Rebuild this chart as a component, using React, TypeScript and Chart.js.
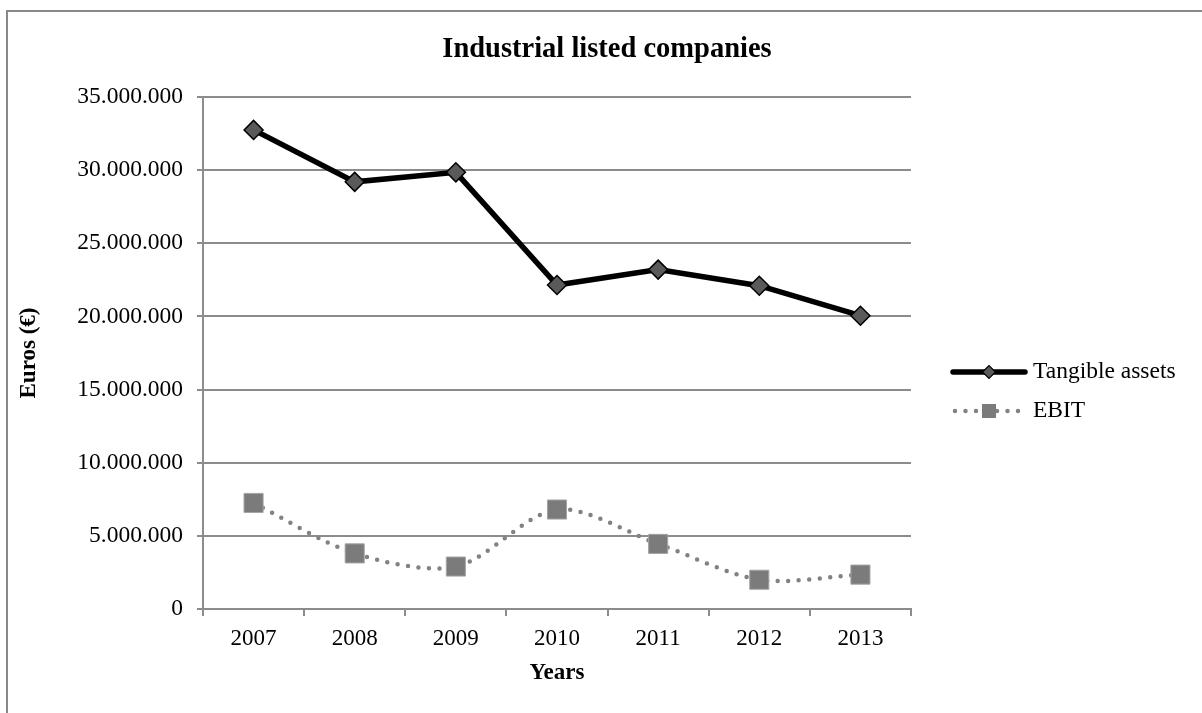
import React, { useEffect, useRef } from "react";
import { Chart, registerables } from "chart.js";

Chart.register(...registerables);

const years = ["2007", "2008", "2009", "2010", "2011", "2012", "2013"];
const tangibleAssets = [32750000, 29200000, 29850000, 22150000, 23200000, 22100000, 20050000];
const ebit = [7250000, 3800000, 2900000, 6800000, 4450000, 2000000, 2350000];

const chartTitle = "Industrial listed companies";
const yTitle = "Euros (€)";
const xTitle = "Years";
const seriesNames = ["Tangible assets", "EBIT"];

const SERIF = "'Liberation Serif', 'Times New Roman', Times, serif";

const fmt = (v: number) => String(Math.round(v)).replace(/\B(?=(\d{3})+(?!\d))/g, ".");

const decorPlugin = {
  id: "decor",
  beforeDraw(chart: any) {
    const ctx = chart.ctx;
    ctx.save();
    ctx.fillStyle = "#ffffff";
    ctx.fillRect(0, 0, chart.width, chart.height);
    ctx.strokeStyle = "#888888";
    ctx.lineWidth = 2;
    ctx.strokeRect(7, 11, 1400, 900);
    ctx.restore();
  },
  afterDraw(chart: any) {
    const ctx = chart.ctx;
    const area = chart.chartArea;
    ctx.save();
    ctx.fillStyle = "#000000";
    ctx.textBaseline = "middle";
    // title
    ctx.textAlign = "center";
    ctx.font = `bold 28.5px ${SERIF}`;
    ctx.fillText(chartTitle, 607, 50);
    // x title
    ctx.font = `bold 23px ${SERIF}`;
    ctx.fillText(xTitle, (area.left + area.right) / 2, 673);
    // y title
    ctx.save();
    ctx.translate(29, (area.top + area.bottom) / 2);
    ctx.rotate(-Math.PI / 2);
    ctx.fillText(yTitle, 0, 0);
    ctx.restore();

    // legend
    const ds0 = chart.data.datasets[0];
    const ds1 = chart.data.datasets[1];
    const x0 = 953, x1 = 1025, xc = 989;
    const y0 = 372, y1 = 411;
    // tangible
    ctx.beginPath();
    ctx.strokeStyle = ds0.borderColor;
    ctx.lineWidth = 5.5;
    ctx.lineCap = "round";
    ctx.moveTo(x0, y0);
    ctx.lineTo(x1, y0);
    ctx.stroke();
    ctx.beginPath();
    const r = 6.5;
    ctx.moveTo(xc - r, y0);
    ctx.lineTo(xc, y0 - r);
    ctx.lineTo(xc + r, y0);
    ctx.lineTo(xc, y0 + r);
    ctx.closePath();
    ctx.fillStyle = ds0.pointBackgroundColor;
    ctx.fill();
    ctx.lineWidth = 1.2;
    ctx.strokeStyle = "#000000";
    ctx.stroke();
    // ebit
    ctx.beginPath();
    ctx.strokeStyle = ds1.borderColor;
    ctx.lineWidth = 4.5;
    ctx.lineCap = "round";
    ctx.setLineDash([0, 10.5]);
    ctx.moveTo(x0 + 2, y1);
    ctx.lineTo(x1, y1);
    ctx.stroke();
    ctx.setLineDash([]);
    ctx.fillStyle = ds1.pointBackgroundColor;
    ctx.fillRect(xc - 7, y1 - 7, 14, 14);
    // texts
    ctx.fillStyle = "#000000";
    ctx.textAlign = "left";
    ctx.font = `23.5px ${SERIF}`;
    ctx.fillText(seriesNames[0], 1033, y0);
    ctx.fillText(seriesNames[1], 1033, y1);
    ctx.restore();
  },
};

export default function App() {
  const ref = useRef<HTMLCanvasElement | null>(null);

  useEffect(() => {
    document.body.style.margin = "0";
    const canvas = ref.current;
    if (!canvas) return;
    const chart = new Chart(canvas, {
      type: "line",
      data: {
        labels: years,
        datasets: [
          {
            label: seriesNames[0],
            data: tangibleAssets,
            borderColor: "#000000",
            borderWidth: 5.5,
            tension: 0,
            pointStyle: "rectRot",
            pointRadius: 9.5,
            pointBackgroundColor: "#5a5a5a",
            pointBorderColor: "#000000",
            pointBorderWidth: 1.5,
            fill: false,
          },
          {
            label: seriesNames[1],
            data: ebit,
            borderColor: "#828282",
            borderWidth: 4.5,
            borderDash: [0, 10.5],
            borderCapStyle: "round",
            tension: 0.3,
            pointStyle: "rect",
            pointRadius: 13.5,
            pointBackgroundColor: "#7b7b7b",
            pointBorderColor: "#a5a5a5",
            pointBorderWidth: 1,
            fill: false,
          },
        ],
      },
      options: {
        responsive: false,
        animation: false,
        devicePixelRatio: 1,
        layout: { padding: { left: 0, top: 97, right: 291, bottom: 0 } },
        plugins: {
          legend: { display: false },
          title: { display: false },
          tooltip: { enabled: false },
        },
        scales: {
          x: {
            type: "category",
            offset: true,
            grid: {
              offset: true,
              drawOnChartArea: false,
              drawTicks: true,
              tickLength: 7,
              color: "#8c8c8c",
              lineWidth: 2,
            },
            border: { color: "#8c8c8c", width: 2 },
            ticks: {
              color: "#000000",
              font: { family: SERIF, size: 23 },
              padding: 9,
              maxRotation: 0,
              autoSkip: false,
            },
            afterFit: (scale: any) => {
              scale.height = 104;
            },
          },
          y: {
            min: 0,
            max: 35000000,
            grid: {
              color: "#8c8c8c",
              lineWidth: 2,
              drawTicks: true,
              tickLength: 6,
            },
            border: { color: "#8c8c8c", width: 2 },
            ticks: {
              stepSize: 5000000,
              color: "#000000",
              font: { family: SERIF, size: 23.5 },
              padding: 14,
              callback: (v: any) => fmt(Number(v)),
            },
            afterFit: (scale: any) => {
              scale.width = 203;
            },
          },
        },
      },
      plugins: [decorPlugin],
    } as any);
    return () => chart.destroy();
  }, []);

  return (
    <div style={{ position: "absolute", left: 0, top: 0, width: 1202, height: 713, background: "#fff" }}>
      <canvas ref={ref} width={1202} height={713} style={{ display: "block" }} />
    </div>
  );
}
